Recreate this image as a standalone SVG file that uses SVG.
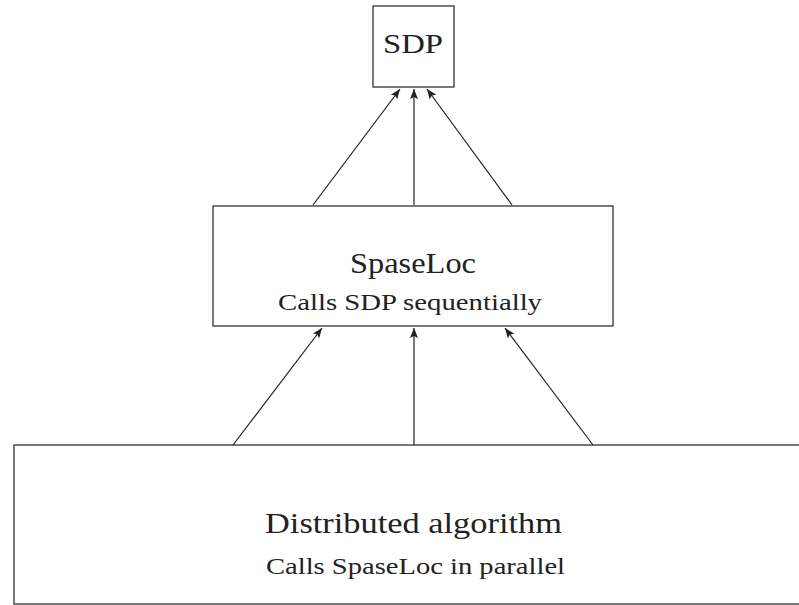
<svg xmlns="http://www.w3.org/2000/svg" width="799" height="605" viewBox="0 0 799 605">
<defs>
<marker id="ah" viewBox="0 0 10 8" refX="10" refY="4" markerWidth="10" markerHeight="8" markerUnits="userSpaceOnUse" orient="auto">
<path d="M0,0 L10,4 L0,8 L2,4 Z" fill="#222"/>
</marker>
</defs>
<style>
.box{fill:#fff;stroke:#222;stroke-width:1.2}
.t{font-family:"Liberation Serif","Times New Roman",Tinos,"Nimbus Roman","Noto Serif","DejaVu Serif",serif;fill:#222;text-anchor:start}
.e{stroke:#222;stroke-width:1.2;fill:none;marker-end:url(#ah)}
</style>
<rect width="799" height="605" fill="#fff"/>
<g id="sdp">
<rect class="box" x="373" y="6" width="81" height="81"/>
<text class="t" x="383" y="53" font-size="28" textLength="60" lengthAdjust="spacingAndGlyphs">SDP</text>
</g>
<g id="spaseloc">
<rect class="box" x="213" y="206" width="400" height="120"/>
<text class="t" x="350" y="273" font-size="29" textLength="126" lengthAdjust="spacingAndGlyphs">SpaseLoc</text>
<text class="t" x="278" y="310" font-size="23" textLength="264" lengthAdjust="spacingAndGlyphs">Calls SDP sequentially</text>
</g>
<g id="distributed">
<rect class="box" x="14" y="445" width="810" height="159" stroke="#555"/>
<text class="t" x="265" y="533" font-size="29" textLength="297" lengthAdjust="spacingAndGlyphs">Distributed algorithm</text>
<text class="t" x="266" y="574" font-size="23" textLength="299" lengthAdjust="spacingAndGlyphs">Calls SpaseLoc in parallel</text>
</g>
<g id="connectors">
<line class="e" x1="313" y1="205" x2="400" y2="89"/>
<line class="e" x1="414" y1="205" x2="414" y2="89"/>
<line class="e" x1="512" y1="205" x2="427" y2="89"/>
<line class="e" x1="233" y1="445" x2="322" y2="328"/>
<line class="e" x1="414" y1="445" x2="414" y2="328"/>
<line class="e" x1="593" y1="445" x2="505" y2="328"/>
</g>
</svg>
